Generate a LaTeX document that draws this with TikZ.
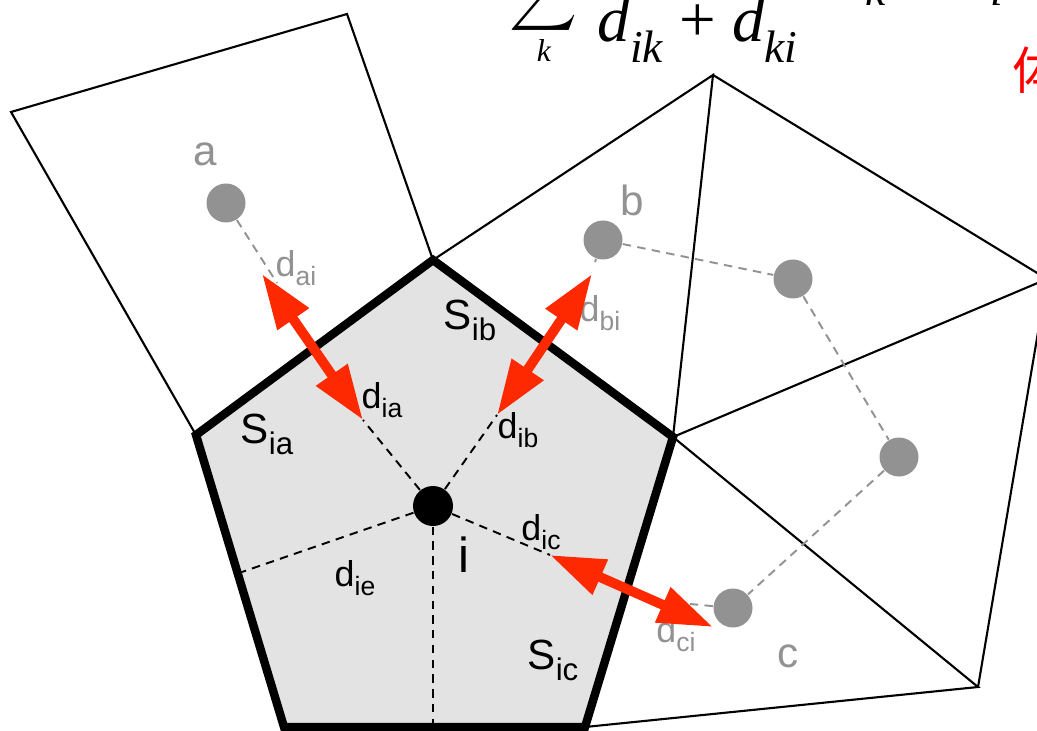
\documentclass[tikz,border=0pt]{standalone}
\usepackage{fontspec}
\setmainfont{Liberation Sans}
\newfontfamily\eqfont{Liberation Serif}
\newfontfamily\cjk{Noto Sans CJK SC}
\usepackage{amsmath}
\usetikzlibrary{arrows.meta}

\definecolor{dotgray}{RGB}{146,146,146}
\definecolor{cellfill}{RGB}{227,227,227}
\definecolor{fluxred}{RGB}{255,41,0}

\newcommand{\sub}[1]{\raisebox{-0.26em}{\scalebox{0.74}{#1}}}
\newcommand{\esub}[1]{\raisebox{-0.32em}{\scalebox{0.7}{#1}}}

\tikzset{
  cell/.style={line width=0.6pt},
  owncell/.style={line width=2.4pt, fill=cellfill},
  cdash/.style={dash pattern=on 2.4pt off 1.8pt, line width=0.55pt},
  gdash/.style={cdash, dotgray},
  nbr/.style={circle, fill=dotgray, inner sep=0pt, minimum size=3.9mm},
  flux/.style={fluxred, line width=2.8pt,
    {Triangle[length=5.5mm,width=3.6mm]}-{Triangle[length=5.5mm,width=3.6mm]}},
  dlab/.style={inner sep=0pt, font=\fontsize{10.2}{12}\selectfont},
  glab/.style={dlab, text=dotgray},
  slab/.style={inner sep=0pt, font=\fontsize{12}{14}\selectfont},
  eq/.style={inner sep=0pt, font=\fontsize{18.5}{20}\selectfont\eqfont},
}

\begin{document}
\begin{tikzpicture}[x=1cm, y=-1cm]

    \useasboundingbox (0,0) rectangle (10.37,7.31);
    \clip (0,0) rectangle (10.37,7.31);

    % Corners of the cells
    \coordinate (P1) at (4.33,2.60);
    \coordinate (P2) at (6.73,4.37);
    \coordinate (P3) at (5.85,7.27);
    \coordinate (P4) at (2.84,7.27);
    \coordinate (P5) at (1.96,4.35);
    \coordinate (Q1) at (0.11,1.12);
    \coordinate (Q2) at (3.47,0.14);
    \coordinate (Q3) at (7.13,0.75);
    \coordinate (Q4) at (10.47,2.79);
    \coordinate (Q5) at (9.78,6.87);

    % Neighbour cells
    \draw[cell] (P5) -- (Q1) -- (Q2) -- (P1) -- (Q3) -- (P2);
    \draw[cell] (Q3) -- (Q4) -- (P2) -- (Q5) -- (P3);
    \draw[cell] (Q4) -- (Q5);

    % Cell i
    \draw[owncell] (P1) -- (P2) -- (P3) -- (P4) -- (P5) -- cycle;

    % Centres
    \node[circle, fill=black, inner sep=0pt, minimum size=4mm] (i) at (4.33,5.06) {};
    \node[nbr] (a) at (2.26,2.03) {};
    \node[nbr] (b) at (6.03,2.40) {};
    \node[nbr] (m1) at (7.93,2.79) {};
    \node[nbr] (m2) at (8.99,4.57) {};
    \node[nbr] (c) at (7.33,6.08) {};

    % Ends of the distances
    \coordinate (ea) at (3.63,4.20);
    \coordinate (eb) at (4.97,4.15);
    \coordinate (ec) at (5.50,5.55);
    \coordinate (ee) at (2.39,5.73);
    \coordinate (ef) at (4.33,7.27);
    \coordinate (ta) at (2.62,2.74);
    \coordinate (tb) at (5.92,2.74);
    \coordinate (tc) at (7.13,6.27);
    \coordinate (sa) at (2.77,2.83);
    \coordinate (sb) at (5.95,2.62);
    \coordinate (sc) at (6.90,6.04);

    \draw[cdash] (i) -- (ea);
    \draw[cdash] (i) -- (eb);
    \draw[cdash] (i) -- (ec);
    \draw[cdash] (i) -- (ee);
    \draw[cdash] (i) -- (ef);

    \draw[gdash] (a) -- (sa);
    \draw[gdash] (b) -- (sb);
    \draw[gdash] (c) -- (sc);
    \draw[gdash] (b) -- (m1) -- (m2) -- (c);

    % Labels
    \node[slab, text=dotgray] (la) at (2.05,1.54) {a};
    \node[slab, text=dotgray] (lb) at (6.32,2.00) {b};
    \node[slab, text=dotgray] (lc) at (7.88,6.56) {c};
    \node[glab] (dai) at (2.96,2.68) {d\sub{ai}};
    \node[glab] (dbi) at (6.00,3.13) {d\sub{bi}};
    \node[glab] (dci) at (6.76,6.34) {d\sub{ci}};
    \node[dlab] (dia) at (3.82,4.00) {d\sub{ia}};
    \node[dlab] (dib) at (5.18,4.30) {d\sub{ib}};
    \node[dlab] (dic) at (5.41,5.32) {d\sub{ic}};
    \node[dlab] (die) at (3.55,5.78) {d\sub{ie}};
    \node[slab] (Sia) at (2.67,4.34) {S\sub{ia}};
    \node[slab] (Sib) at (4.70,3.20) {S\sub{ib}};
    \node[slab] (Sic) at (5.53,6.60) {S\sub{ic}};
    \node[inner sep=0pt, font=\fontsize{14}{16}\selectfont] (li) at (4.64,5.55) {i};

    % Fluxes
    \draw[flux] (ta) -- (ea);
    \draw[flux] (tb) -- (eb);
    \draw[flux] (ec) -- (tc);

    % Formula above
    \node[inner sep=0pt, anchor=south] (sig) at (5.44,0.36) {\scalebox{1.34}{$\displaystyle\sum$}};
    \node[inner sep=0pt, font=\fontsize{9}{10}\selectfont\eqfont\itshape] (sk) at (5.44,0.51) {k};
    \node[eq, anchor=base west] (den) at (5.97,0.42)
        {\itshape d\esub{ik} \upshape+ \itshape d\esub{ki}};
    \node[eq, anchor=base west] (par) at (8.18,-0.15)
        {(\itshape r\esub{k}\upshape\ $-$ \itshape r\esub{i}\upshape)};
    \node[inner sep=0pt, anchor=west, text=red, font=\fontsize{14.5}{16}\selectfont\cjk] (ti) at (10.12,0.70) {体};

\end{tikzpicture}
\end{document}
